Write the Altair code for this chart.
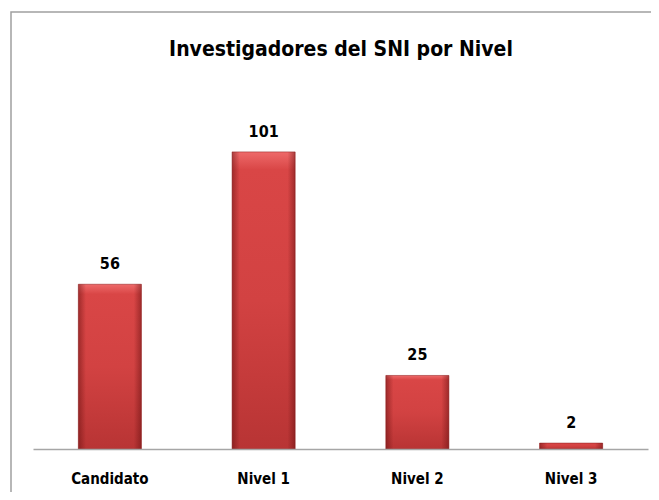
import altair as alt
import pandas as pd

categories = ["Candidato", "Nivel 1", "Nivel 2", "Nivel 3"]
values = [56, 101, 25, 2]
title_text = "Investigadores del SNI por Nivel"

df = pd.DataFrame({"nivel": categories, "n": values})

FONT = "Liberation Sans Narrow, DejaVu Sans Condensed, Roboto, sans-serif"

x_enc = alt.X("nivel:N", sort=categories, title=None,
              scale=alt.Scale(paddingInner=0.59, paddingOuter=0.295),
              axis=alt.Axis(labelAngle=0, ticks=False, domainColor="#a6a6a6",
                            domainWidth=1.5, labelFont=FONT, labelFontSize=15,
                            labelFontWeight="bold", labelColor="#000000",
                            labelPadding=22, zindex=1))
y_enc = alt.Y("n:Q", scale=alt.Scale(domain=[0, 120]), axis=None)

base = alt.Chart(df)

frame = base.mark_rect(fill="transparent", stroke="#a0a0a0", strokeWidth=1.5, clip=False).encode(
    x=alt.value(-22), x2=alt.value(700), y=alt.value(-84), y2=alt.value(500)
).transform_filter(alt.datum.nivel == "Candidato")

title = alt.Chart(pd.DataFrame({"t": [title_text]})).mark_text(
    font=FONT, fontSize=21, fontWeight="bold", color="#000000",
    align="center", baseline="middle"
).encode(text="t:N", x=alt.value(308), y=alt.value(-46))

vgrad = alt.LinearGradient(gradient="linear", x1=0, y1=0, x2=0, y2=1, stops=[
    alt.GradientStop(color="#ee6a6a", offset=0),
    alt.GradientStop(color="#d94646", offset=0.06),
    alt.GradientStop(color="#d24242", offset=0.5),
    alt.GradientStop(color="#b83434", offset=1),
])
hgrad = alt.LinearGradient(gradient="linear", x1=0, y1=0, x2=1, y2=0, stops=[
    alt.GradientStop(color="rgba(90,10,10,0.45)", offset=0),
    alt.GradientStop(color="rgba(90,10,10,0.0)", offset=0.12),
    alt.GradientStop(color="rgba(90,10,10,0.0)", offset=0.88),
    alt.GradientStop(color="rgba(90,10,10,0.45)", offset=1),
])

bars = base.mark_bar(color=vgrad, stroke="#9a2a2a", strokeWidth=0.6).encode(x=x_enc, y=y_enc)
bars_edge = base.mark_bar(color=hgrad).encode(x=x_enc, y=y_enc)

labels = base.mark_text(font=FONT, fontSize=16, fontWeight="bold", color="#000000",
                        baseline="bottom", dy=-12).encode(x=x_enc, y=y_enc, text="n:Q")

chart = alt.layer(frame, title, bars, bars_edge, labels).properties(
    width=615, height=353,
    background="white",
    autosize=alt.AutoSizeParams(type="none"),
    padding={"left": 25, "top": 88, "right": 3, "bottom": 43},
).configure_view(strokeWidth=0, stroke="transparent")

chart.save("out.html", embed_options={"renderer": "svg", "actions": False})
